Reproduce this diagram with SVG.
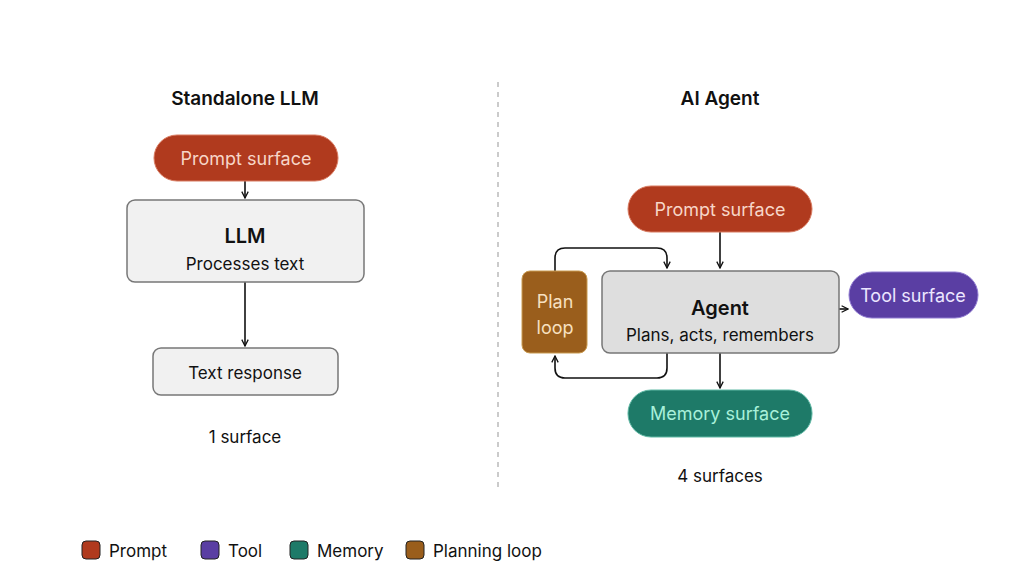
<svg xmlns="http://www.w3.org/2000/svg" width="1024" height="580" viewBox="0 0 1024 580">
<defs>
<marker id="ah" viewBox="0 0 10 10" refX="9" refY="5" markerWidth="8" markerHeight="8" orient="auto-start-reverse" markerUnits="userSpaceOnUse"><path d="M1,1 L9,5 L1,9" fill="none" stroke="#111" stroke-width="1.6"/></marker>
</defs>
<style>
text{font-family:"Inter","Liberation Sans",sans-serif;text-anchor:middle}
.t{font-size:19px;font-weight:600;fill:#111}
.c{font-size:17px;fill:#111}
.pill{font-size:18px}
.box{fill:#f1f1f1;stroke:#777;stroke-width:1.5}
.ln{fill:none;stroke:#111;stroke-width:1.6;marker-end:url(#ah)}
.lg{font-size:17px;fill:#111;text-anchor:start}
</style>
<rect width="1024" height="580" fill="#fff"/>
<text class="t" x="245" y="105">Standalone LLM</text>
<text class="t" x="720" y="105">AI Agent</text>
<line x1="498" y1="82" x2="498" y2="490" stroke="#bbb" stroke-width="1.5" stroke-dasharray="5,5"/>
<g id="connectors">
<path class="ln" d="M245,181 V198"/>
<path class="ln" d="M245,282 V346"/>
<path class="ln" d="M720,232 V268"/>
<path class="ln" d="M720,353 V388"/>
<path class="ln" d="M839,309 H848"/>
<path class="ln" d="M555,271 V258 Q555,248 565,248 H657 Q667,248 667,258 V268"/>
<path class="ln" d="M667,353 V368 Q667,378 657,378 H565 Q555,378 555,368 V356"/>
</g>
<g id="l-prompt"><rect x="154" y="135" width="184" height="46" rx="23" fill="#b03a1e" stroke="#d87a60"/><text class="pill" x="246" y="165" fill="#f7d6c8">Prompt surface</text></g>
<g id="l-llm"><rect class="box" x="127" y="200" width="237" height="82" rx="8"/><text x="245" y="243" style="font-size:20px;font-weight:600;fill:#111">LLM</text><text class="c" x="245" y="270">Processes text</text></g>
<g id="l-resp"><rect class="box" x="153" y="348" width="185" height="47" rx="8"/><text class="c" x="245" y="379">Text response</text></g>
<text class="c" x="245" y="443">1 surface</text>
<g id="a-prompt"><rect x="628" y="186" width="184" height="46" rx="23" fill="#b03a1e" stroke="#d87a60"/><text class="pill" x="720" y="216" fill="#f7d6c8">Prompt surface</text></g>
<g id="a-agent"><rect x="602" y="271" width="237" height="82" rx="8" fill="#dedede" stroke="#777" stroke-width="1.5"/><text x="720" y="315" style="font-size:20px;font-weight:600;fill:#111">Agent</text><text class="c" x="720" y="341">Plans, acts, remembers</text></g>
<g id="a-plan"><rect x="522" y="271" width="65" height="82" rx="8" fill="#9a5e1c" stroke="#c89a50"/><text class="pill" x="555" y="308" fill="#f7e0c0">Plan</text><text class="pill" x="555" y="334" fill="#f7e0c0">loop</text></g>
<g id="a-tool"><rect x="849" y="272" width="129" height="46" rx="23" fill="#5a3ea3" stroke="#8f7ad0"/><text class="pill" x="913" y="302" fill="#ece6ff">Tool surface</text></g>
<g id="a-mem"><rect x="628" y="390" width="184" height="47" rx="23" fill="#1e7a68" stroke="#5fb8a4"/><text class="pill" x="720" y="420" fill="#a8f0da">Memory surface</text></g>
<text class="c" x="720" y="482">4 surfaces</text>
<g id="legend">
<rect x="82" y="541" width="18" height="18" rx="4" fill="#b03a1e" stroke="#222"/><text class="lg" x="109" y="557">Prompt</text>
<rect x="201" y="541" width="18" height="18" rx="4" fill="#5a3ea3" stroke="#222"/><text class="lg" x="228" y="557">Tool</text>
<rect x="290" y="541" width="18" height="18" rx="4" fill="#1e7a68" stroke="#222"/><text class="lg" x="317" y="557">Memory</text>
<rect x="406" y="541" width="18" height="18" rx="4" fill="#9a5e1c" stroke="#222"/><text class="lg" x="433" y="557">Planning loop</text>
</g>
</svg>
